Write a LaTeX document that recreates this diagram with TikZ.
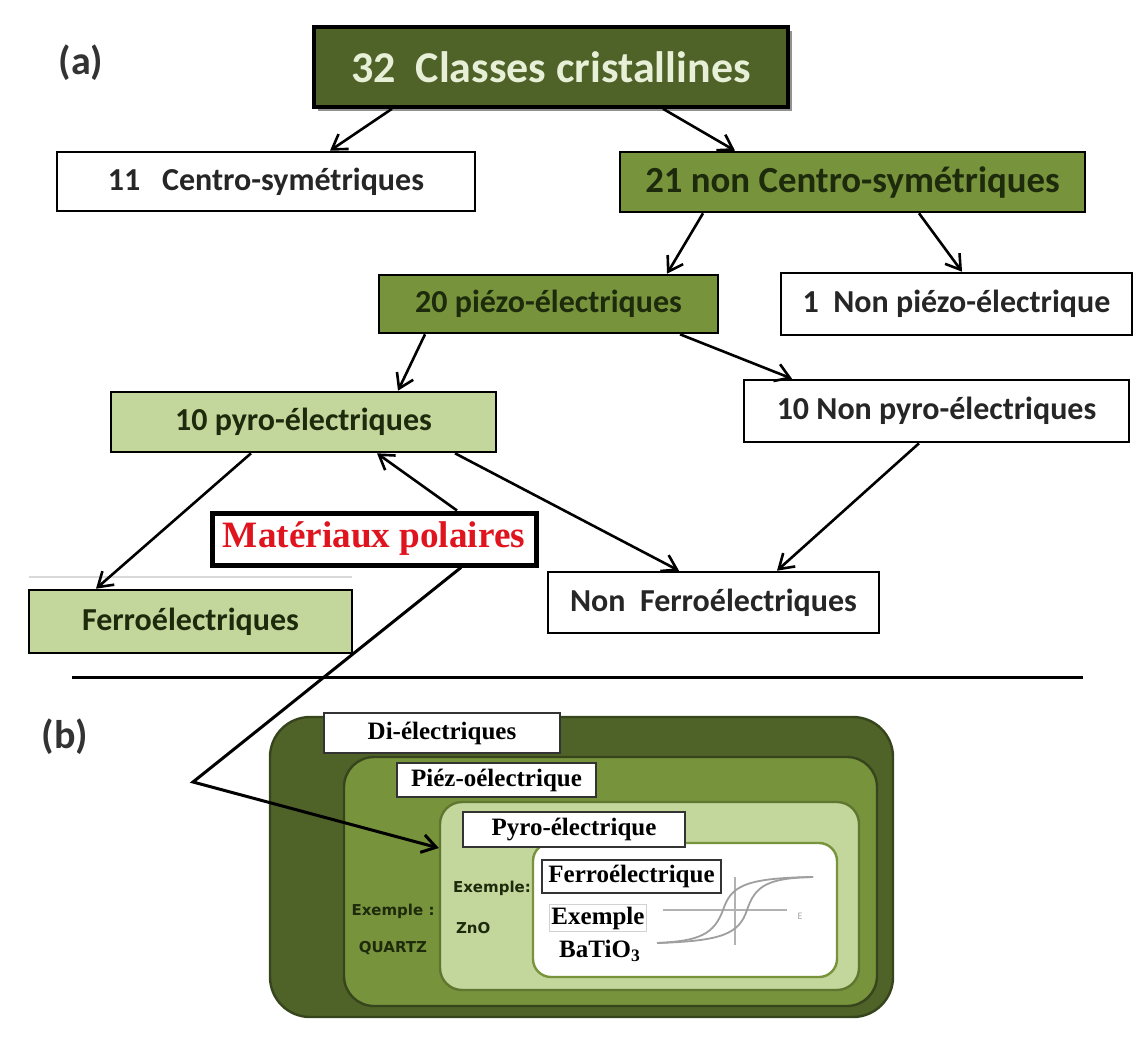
\documentclass[tikz,border=0pt]{standalone}
\usepackage{fontspec}
\setmainfont{Carlito}
\newfontfamily\labelserif{Liberation Serif}
\newfontfamily\smallsans{DejaVu Sans}
\usetikzlibrary{arrows.meta,shadows}

\definecolor{darkolive}{HTML}{4F6228}
\definecolor{olive}{HTML}{77933C}
\definecolor{paleolive}{HTML}{C3D69B}
\definecolor{textgreen}{HTML}{1E2A0C}
\definecolor{polared}{HTML}{E0141E}

\begin{document}
\begin{tikzpicture}[
  x=0.5pt, y=-0.5pt,
  class box/.style={
    draw=black, line width=1.3pt, inner sep=0pt, text=textgreen,
    font=\bfseries\fontsize{16}{18}\selectfont
  },
  white box/.style={class box, fill=white, text=black!85},
  green box/.style={class box, fill=olive},
  pale box/.style={class box, fill=paleolive},
  set area/.style={
    draw=darkolive!70!black, line width=1.2pt, inner sep=0pt
  },
  set label/.style={
    draw=black!80, line width=1pt, fill=white, inner sep=0pt,
    font=\labelserif\bfseries\fontsize{12.5}{14}\selectfont
  },
  example/.style={
    font=\smallsans\bfseries\fontsize{7.5}{9}\selectfont, text=textgreen
  },
  link/.style={
    line width=1.3pt, -{Straight Barb[length=7pt, width=9pt]}
  }
  ]
  \useasboundingbox (0,0) rectangle (1143,1037);

  % (a) classification
  \node[font=\bfseries\fontsize{20}{22}\selectfont, text=black!80] (la) at (81,63) {(a)};
  \node[class box, fill=darkolive, line width=1.8pt, text=paleolive!40,
    minimum width=237pt, minimum height=40pt,
    font=\bfseries\fontsize{22}{24}\selectfont,
    drop shadow={shadow xshift=2pt, shadow yshift=-2pt, fill=black!85}]
    (cls) at (551,67) {32~~Classes cristallines};
  \node[white box, minimum width=209pt, minimum height=29.5pt]
    (centro) at (266,181.5) {11~~~Centro-symétriques};
  \node[green box, minimum width=232.5pt, minimum height=30pt,
    font=\bfseries\fontsize{18.4}{20}\selectfont]
    (noncentro) at (852.5,182) {21 non Centro-symétriques};
  \node[green box, minimum width=169.5pt, minimum height=29pt]
    (piezo) at (548.5,304) {20 piézo-électriques};
  \node[white box, minimum width=175.5pt, minimum height=31pt]
    (nonpiezo) at (956.5,304) {1~~Non piézo-électrique};
  \node[pale box, minimum width=192.5pt, minimum height=30pt]
    (pyro) at (303.5,422) {10 pyro-électriques};
  \node[white box, minimum width=192.5pt, minimum height=31pt]
    (nonpyro) at (936.5,411) {10 Non pyro-électriques};
  \draw[gray!30, line width=1pt] (29,577) -- (352,577);
  \node[pale box, minimum width=161.5pt, minimum height=31.5pt]
    (ferro) at (190.5,621.5) {Ferroélectriques};
  \node[white box, minimum width=165.5pt, minimum height=30.5pt]
    (nonferro) at (713.5,602.5) {Non~~Ferroélectriques};
  \node[draw=black, line width=2.5pt, fill=white, inner sep=0pt,
    minimum width=162pt, minimum height=26pt, text=polared,
    font=\labelserif\bfseries\fontsize{18.6}{20}\selectfont]
    (polar) at (374,539) {Matériaux polaires};

  \draw[link] ([xshift=-79.5pt]cls.south) -- ([xshift=32pt]centro.north);
  \draw[link] ([xshift=56pt]cls.south) -- ([xshift=-58.75pt]noncentro.north);
  \draw[link] ([xshift=-74.75pt]noncentro.south) -- ([xshift=59.25pt]piezo.north);
  \draw[link] ([xshift=33.25pt]noncentro.south) -- ([xshift=2.75pt]nonpiezo.north);
  \draw[link] ([xshift=-61.75pt]piezo.south) -- ([xshift=47.25pt]pyro.north);
  \draw[link] ([xshift=65.75pt]piezo.south) -- ([xshift=-72.25pt]nonpyro.north);
  \draw[link] ([xshift=-26.25pt]pyro.south) -- ([xshift=-47.25pt]ferro.north);
  \draw[link] ([xshift=75.75pt]pyro.south) -- ([xshift=-17.25pt]nonferro.north);
  \draw[link] ([xshift=41.5pt]polar.north) -- ([xshift=36.75pt]pyro.south);
  \draw[link] ([xshift=-8.75pt]nonpyro.south) -- ([xshift=31.75pt]nonferro.north);

  \draw[line width=1.5pt] (72,677) -- (1083,677);

  % (b) nested sets
  \node[font=\bfseries\fontsize{20}{22}\selectfont, text=black!80] (lb) at (65,737) {(b)};
  \node[set area, fill=darkolive, rounded corners=20pt,
    minimum width=311.5pt, minimum height=150pt] (dielset) at (581.5,867) {};
  \node[set area, fill=olive, rounded corners=15pt,
    minimum width=266.5pt, minimum height=124.5pt] (piezoset) at (610.5,881.5) {};
  \node[set area, fill=paleolive, draw=olive!80!black, rounded corners=11pt,
    minimum width=209.5pt, minimum height=94pt] (pyroset) at (649.5,896) {};
  \node[set area, fill=white, draw=olive, rounded corners=9pt,
    minimum width=152pt, minimum height=67pt] (ferroset) at (685,910) {};

  \node[set label, minimum width=118pt, minimum height=20pt] (diellabel) at (442,733) {Di-électriques};
  \node[set label, minimum width=99.5pt, minimum height=17pt] (piezolabel) at (496.5,780) {Piéz-oélectrique};
  \node[set label, minimum width=111pt, minimum height=17.5pt] (pyrolabel) at (574,829.5) {Pyro-électrique};
  \node[set label, minimum width=89.5pt, minimum height=16.5pt] (ferrolabel) at (631.5,876.5) {Ferroélectrique};

  \node[example] (quartzex) at (393,911) {Exemple :};
  \node[example] (quartz) at (393,948) {QUARTZ};
  \node[example, anchor=west] (znoex) at (446,888) {Exemple:};
  \node[example, anchor=west] (zno) at (449,928) {ZnO};
  \node[draw=gray!35, line width=0.6pt, inner sep=1pt,
    font=\labelserif\bfseries\fontsize{12.5}{14}\selectfont] (batex) at (598,918) {Exemple};
  \node[font=\labelserif\bfseries\fontsize{12.5}{14}\selectfont] (bat) at (600,951) {BaTiO\textsubscript{3}};

  % hysteresis loop
  \draw[gray!60, line width=0.6pt] (663,910) -- (787,910);
  \draw[gray!60, line width=0.6pt] (735,877) -- (735,945);
  \draw[gray!75, line width=0.9pt] (657,943) .. controls (700,941) and (714,934) .. (723,910)
    .. controls (731,887) and (742,878) .. (813,877);
  \draw[gray!75, line width=0.9pt] (657,943) .. controls (722,941) and (739,934) .. (747,910)
    .. controls (755,886) and (767,878) .. (813,877);
  \node[text=gray!70, font=\fontsize{5}{6}\selectfont] (efield) at (800,916) {E};

  % polar pointer
  \coordinate (bend) at (193,782);
  \draw[line width=1.5pt, -{Straight Barb[length=7pt, width=9pt]}]
    ([xshift=43.5pt]polar.south) -- (bend) -- ([yshift=24pt]pyroset.west);
\end{tikzpicture}
\end{document}
